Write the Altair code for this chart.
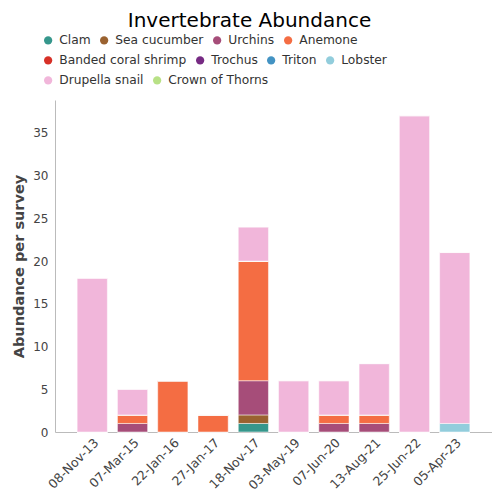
import altair as alt
import pandas as pd

dates = ["08-Nov-13", "07-Mar-15", "22-Jan-16", "27-Jan-17", "18-Nov-17",
         "03-May-19", "07-Jun-20", "13-Aug-21", "25-Jun-22", "05-Apr-23"]
species = ["Clam", "Sea cucumber", "Urchins", "Anemone", "Banded coral shrimp",
           "Trochus", "Triton", "Lobster", "Drupella snail", "Crown of Thorns"]
colors = ["#36978c", "#9a6230", "#a64d79", "#f46d43", "#d73027",
          "#762a83", "#4393c3", "#92cddc", "#f1b6da", "#b8e186"]

clam =          [0, 0, 0, 0, 1, 0, 0, 0, 0, 0]
sea_cucumber =  [0, 0, 0, 0, 1, 0, 0, 0, 0, 0]
urchins =       [0, 1, 0, 0, 4, 0, 1, 1, 0, 0]
anemone =       [0, 1, 6, 2, 14, 0, 1, 1, 0, 0]
banded_shrimp = [0, 0, 0, 0, 0, 0, 0, 0, 0, 0]
trochus =       [0, 0, 0, 0, 0, 0, 0, 0, 0, 0]
triton =        [0, 0, 0, 0, 0, 0, 0, 0, 0, 0]
lobster =       [0, 0, 0, 0, 0, 0, 0, 0, 0, 1]
drupella =      [18, 3, 0, 0, 4, 6, 4, 6, 37, 20]
crown_thorns =  [0, 0, 0, 0, 0, 0, 0, 0, 0, 0]

series = [clam, sea_cucumber, urchins, anemone, banded_shrimp,
          trochus, triton, lobster, drupella, crown_thorns]

# legend rows (flow layout, as in the reference)
legend_rows = [species[0:4], species[4:8], species[8:10]]

rows = []
for si, (sp, vals) in enumerate(zip(species, series)):
    for d, v in zip(dates, vals):
        rows.append({"date": d, "species": sp, "order": si, "value": v})
df = pd.DataFrame(rows)

FONT = "DejaVu Sans"

bars = alt.Chart(df).mark_bar(stroke="white", strokeWidth=1, strokeOpacity=0.5).encode(
    x=alt.X("date:N", sort=dates, title=None,
            scale=alt.Scale(paddingInner=0.25, paddingOuter=0.55),
            axis=alt.Axis(labelAngle=-45, ticks=False, labelFontSize=12.5,
                          labelColor="#444", labelFont=FONT, domainColor="#bbb",
                          labelPadding=4)),
    y=alt.Y("value:Q", stack="zero", title="Abundance per survey",
            scale=alt.Scale(domain=[0, 38.85], nice=False),
            axis=alt.Axis(ticks=False, grid=False, values=[0, 5, 10, 15, 20, 25, 30, 35],
                          labelFontSize=12, labelColor="#444", labelFont=FONT,
                          labelPadding=7, domainColor="#bbb",
                          titleFontSize=14.5, titleFont=FONT, titleColor="#444",
                          titleFontWeight="bold", titlePadding=6)),
    color=alt.Color("species:N", sort=species,
                    scale=alt.Scale(domain=species, range=colors), legend=None),
    order=alt.Order("order:Q", sort="ascending"),
    tooltip=["date", "species", "value"],
)

layers = [bars]
for ri, row_species in enumerate(legend_rows):
    row_colors = [colors[species.index(s)] for s in row_species]
    leg = alt.Chart(df).transform_filter(
        alt.FieldOneOfPredicate(field="species", oneOf=row_species)
    ).mark_circle(opacity=0).encode(
        color=alt.Color("species:N", sort=row_species,
                        scale=alt.Scale(domain=row_species, range=row_colors),
                        legend=alt.Legend(title=None, orient="none", legendX=-13,
                                          legendY=-66 + ri * 20,
                                          direction="horizontal",
                                          symbolType="circle", symbolSize=68,
                                          symbolStrokeWidth=0, symbolOpacity=1,
                                          labelFontSize=12.25, labelFont=FONT,
                                          labelColor="#333", columnPadding=7,
                                          labelOffset=5))
    )
    layers.append(leg)

chart = alt.layer(*layers).resolve_scale(color="independent").properties(
    width=437, height=332,
    title=alt.TitleParams("Invertebrate Abundance", fontSize=20, font=FONT,
                          fontWeight="normal", color="#000", anchor="middle",
                          dx=-24, offset=3),
    autosize=alt.AutoSizeParams(type="none"),
    padding={"left": 47, "top": 92, "right": 0, "bottom": 60},
).configure_view(stroke=None)

chart.save("out.html", embed_options={"renderer": "svg", "actions": False})
